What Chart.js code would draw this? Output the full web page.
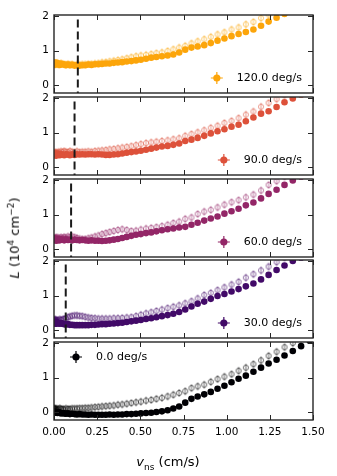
<!DOCTYPE html>
<html>
<head>
<meta charset="utf-8">
<script src="https://cdn.jsdelivr.net/npm/chart.js@4.4.1/dist/chart.umd.min.js"></script>
<style>
  body { margin: 0; background: #fff; }
  #wrap { position: relative; width: 337px; height: 476px; font-family: "DejaVu Sans", sans-serif; color: #000; }
  canvas { position: absolute; left: 0; }
  .lab { position: absolute; white-space: nowrap; font-size: 13px; }
  .lab sup, .lab sub { font-size: 9px; }
</style>
</head>
<body>
<div id="wrap">
  <canvas id="p0" width="337" height="110"></canvas>
  <canvas id="p1" width="337" height="110"></canvas>
  <canvas id="p2" width="337" height="110"></canvas>
  <canvas id="p3" width="337" height="110"></canvas>
  <canvas id="p4" width="337" height="118"></canvas>
  <div class="lab" style="left:14px;top:238px;transform:translate(-50%,-50%) rotate(-90deg);"><i>L</i> (10<sup>4</sup> cm<sup>&minus;2</sup>)</div>
  <div class="lab" style="left:168px;top:463px;transform:translate(-50%,-50%);"><i>v</i><sub>ns</sub> (cm/s)</div>
</div>
<script>
// shared x grid (cm/s)
var vns = [
  0, 0.002, 0.004, 0.007, 0.010, 0.015, 0.020, 0.026, 0.033, 0.041,
  0.050, 0.059, 0.069, 0.081, 0.092, 0.105, 0.119, 0.133, 0.148, 0.164,
  0.181, 0.199, 0.217, 0.237, 0.257, 0.278, 0.300, 0.322, 0.346, 0.370,
  0.395, 0.421, 0.448, 0.475, 0.503, 0.533, 0.563, 0.593, 0.625, 0.658,
  0.691, 0.725, 0.760, 0.796, 0.832, 0.870, 0.908, 0.947, 0.987, 1.028,
  1.069, 1.111, 1.155, 1.199, 1.243, 1.289, 1.335, 1.383, 1.431, 1.480
];

// 120 deg/s
var L120_filled = [
  0.64, 0.61, 0.66, 0.62, 0.60, 0.65, 0.62, 0.63, 0.59, 0.62,
  0.61, 0.60, 0.58, 0.60, 0.58, 0.59, 0.57, 0.58, 0.57, 0.58,
  0.58, 0.60, 0.59, 0.61, 0.61, 0.62, 0.63, 0.63, 0.65, 0.66,
  0.67, 0.69, 0.70, 0.72, 0.74, 0.77, 0.80, 0.82, 0.84, 0.86,
  0.89, 0.95, 1.03, 1.09, 1.12, 1.16, 1.22, 1.29, 1.35, 1.42,
  1.48, 1.54, 1.61, 1.72, 1.84, 1.95, 2.06, 2.18, 2.29, 2.40
];
var L120_open = [
  0.62, 0.65, 0.60, 0.64, 0.61, 0.63, 0.65, 0.60, 0.62, 0.64,
  0.62, 0.61, 0.60, 0.62, 0.60, 0.61, 0.59, 0.60, 0.60, 0.61,
  0.61, 0.62, 0.62, 0.63, 0.64, 0.66, 0.67, 0.69, 0.71, 0.73,
  0.75, 0.78, 0.81, 0.84, 0.86, 0.88, 0.90, 0.93, 0.95, 0.99,
  1.04, 1.09, 1.14, 1.21, 1.27, 1.33, 1.40, 1.47, 1.53, 1.61,
  1.67, 1.76, 1.83, 1.94, 2.04, 2.14, 2.24, 2.34, 2.44, 2.54
];
// 90 deg/s
var L90_filled = [
  0.37, 0.40, 0.35, 0.38, 0.36, 0.34, 0.39, 0.37, 0.35, 0.38,
  0.37, 0.35, 0.38, 0.37, 0.35, 0.38, 0.36, 0.38, 0.37, 0.38,
  0.37, 0.38, 0.38, 0.37, 0.38, 0.37, 0.36, 0.36, 0.37, 0.38,
  0.40, 0.42, 0.44, 0.46, 0.48, 0.51, 0.54, 0.57, 0.60, 0.62,
  0.65, 0.69, 0.76, 0.80, 0.85, 0.91, 0.98, 1.04, 1.10, 1.17,
  1.23, 1.33, 1.44, 1.55, 1.62, 1.74, 1.88, 1.99, 2.10, 2.20
];
var L90_open = [
  0.40, 0.43, 0.38, 0.41, 0.44, 0.40, 0.42, 0.45, 0.42, 0.46,
  0.44, 0.47, 0.45, 0.44, 0.47, 0.45, 0.44, 0.46, 0.44, 0.45,
  0.45, 0.46, 0.45, 0.47, 0.48, 0.49, 0.50, 0.52, 0.53, 0.55,
  0.57, 0.59, 0.61, 0.64, 0.67, 0.70, 0.72, 0.74, 0.76, 0.78,
  0.81, 0.84, 0.91, 0.96, 1.01, 1.07, 1.14, 1.20, 1.28, 1.34,
  1.42, 1.52, 1.61, 1.75, 1.86, 1.97, 2.08, 2.20, 2.30, 2.40
];
// 60 deg/s
var L60_filled = [
  0.28, 0.31, 0.26, 0.29, 0.28, 0.25, 0.30, 0.28, 0.26, 0.29,
  0.28, 0.26, 0.29, 0.27, 0.28, 0.26, 0.28, 0.27, 0.26, 0.27,
  0.26, 0.25, 0.26, 0.25, 0.25, 0.24, 0.25, 0.26, 0.28, 0.30,
  0.33, 0.36, 0.39, 0.42, 0.44, 0.47, 0.49, 0.52, 0.55, 0.58,
  0.60, 0.63, 0.65, 0.71, 0.77, 0.83, 0.89, 0.95, 1.03, 1.10,
  1.17, 1.27, 1.35, 1.47, 1.60, 1.72, 1.86, 1.99, 2.10, 2.20
];
var L60_open = [
  0.32, 0.29, 0.34, 0.31, 0.33, 0.35, 0.31, 0.34, 0.32, 0.35,
  0.33, 0.36, 0.34, 0.37, 0.35, 0.37, 0.35, 0.33, 0.31, 0.30,
  0.30, 0.32, 0.34, 0.37, 0.40, 0.44, 0.47, 0.50, 0.53, 0.56,
  0.58, 0.56, 0.53, 0.54, 0.57, 0.60, 0.62, 0.64, 0.67, 0.71,
  0.76, 0.80, 0.88, 0.92, 1.02, 1.09, 1.14, 1.21, 1.29, 1.36,
  1.42, 1.50, 1.58, 1.70, 1.86, 1.97, 2.10, 2.20, 2.30, 2.40
];
// 30 deg/s
var L30_filled = [
  0.22, 0.25, 0.20, 0.23, 0.22, 0.19, 0.23, 0.21, 0.19, 0.21,
  0.19, 0.18, 0.17, 0.18, 0.16, 0.16, 0.15, 0.15, 0.15, 0.15,
  0.15, 0.15, 0.16, 0.16, 0.17, 0.18, 0.18, 0.19, 0.20, 0.21,
  0.22, 0.24, 0.26, 0.28, 0.30, 0.33, 0.35, 0.38, 0.41, 0.44,
  0.48, 0.53, 0.60, 0.69, 0.77, 0.83, 0.91, 0.99, 1.05, 1.12,
  1.19, 1.27, 1.35, 1.47, 1.60, 1.74, 1.87, 2.00, 2.10, 2.20
];
var L30_open = [
  0.30, 0.27, 0.32, 0.29, 0.31, 0.28, 0.30, 0.29, 0.32, 0.30,
  0.32, 0.33, 0.35, 0.38, 0.40, 0.42, 0.43, 0.43, 0.42, 0.41,
  0.39, 0.37, 0.36, 0.35, 0.34, 0.34, 0.34, 0.34, 0.35, 0.35,
  0.36, 0.37, 0.38, 0.41, 0.45, 0.49, 0.52, 0.56, 0.60, 0.64,
  0.68, 0.72, 0.78, 0.84, 0.92, 1.02, 1.08, 1.16, 1.24, 1.32,
  1.40, 1.52, 1.62, 1.73, 1.84, 1.97, 2.10, 2.20, 2.30, 2.40
];
// 0 deg/s
var L0_filled = [
  0.03, 0.00, 0.02, -0.01, 0.01, 0.00, -0.02, 0.01, -0.01, -0.03,
  -0.02, -0.03, -0.04, -0.03, -0.05, -0.04, -0.05, -0.06, -0.05, -0.06,
  -0.06, -0.07, -0.06, -0.07, -0.07, -0.07, -0.07, -0.06, -0.07, -0.06,
  -0.06, -0.05, -0.05, -0.04, -0.03, -0.02, -0.01, 0.01, 0.03, 0.06,
  0.11, 0.17, 0.28, 0.39, 0.46, 0.52, 0.59, 0.68, 0.77, 0.87,
  0.97, 1.06, 1.17, 1.29, 1.41, 1.52, 1.64, 1.77, 1.91, 2.07
];
var L0_open = [
  0.10, 0.12, 0.08, 0.11, 0.09, 0.11, 0.08, 0.10, 0.12, 0.10,
  0.10, 0.09, 0.11, 0.10, 0.10, 0.11, 0.11, 0.11, 0.12, 0.12,
  0.13, 0.13, 0.14, 0.15, 0.16, 0.17, 0.18, 0.19, 0.20, 0.22,
  0.23, 0.25, 0.27, 0.29, 0.31, 0.34, 0.36, 0.39, 0.42, 0.46,
  0.51, 0.56, 0.61, 0.70, 0.75, 0.80, 0.88, 0.96, 1.03, 1.10,
  1.20, 1.29, 1.39, 1.50, 1.63, 1.75, 1.88, 2.00, 2.12, 2.25
];

var rateLabels = ['120.0 deg/s', '90.0 deg/s', '60.0 deg/s', '30.0 deg/s', '0.0 deg/s'];
var filledSets = [L120_filled, L90_filled, L60_filled, L30_filled, L0_filled];
var openSets = [L120_open, L90_open, L60_open, L30_open, L0_open];
var colors = ['#fca50a', '#dd513a', '#932667', '#420a68', '#000004'];
var vCrit = [0.138, 0.119, 0.099, 0.068, null];
var critTop = 1.9;
var xTicks = [0, 0.25, 0.5, 0.75, 1.0, 1.25, 1.5];
var yTicks = [0, 1, 2];
var yMin = -0.22, yMax = 2.03;

var panelTops = [15, 97, 179, 260, 342];
var PAD = 16;

function hexA(hex, a) {
  var r = parseInt(hex.substr(1, 2), 16), g = parseInt(hex.substr(3, 2), 16), b = parseInt(hex.substr(5, 2), 16);
  return 'rgba(' + r + ',' + g + ',' + b + ',' + a + ')';
}

// open marker with a small vertical error bar
function openMarker(color) {
  var c = document.createElement('canvas');
  c.width = 8; c.height = 10;
  var g = c.getContext('2d');
  g.strokeStyle = hexA(color, 0.55);
  g.lineWidth = 1;
  g.beginPath();
  g.arc(4, 5, 2.6, 0, Math.PI * 2);
  g.stroke();
  g.beginPath();
  g.moveTo(4, 1); g.lineTo(4, 9);
  g.stroke();
  return c;
}

var panelDeco = {
  id: 'panelDeco',
  afterDatasetsDraw: function (chart, args, opts) {
    var ctx = chart.ctx, a = chart.chartArea, sx = chart.scales.x, sy = chart.scales.y;
    ctx.save();
    ctx.strokeStyle = '#262626';
    ctx.lineWidth = 1;
    ctx.beginPath();
    xTicks.forEach(function (v) {
      var px = Math.round(sx.getPixelForValue(v)) + 0.5;
      ctx.moveTo(px, a.bottom); ctx.lineTo(px, a.bottom - 5);
      ctx.moveTo(px, a.top); ctx.lineTo(px, a.top + 5);
    });
    yTicks.forEach(function (v) {
      var py = Math.round(sy.getPixelForValue(v)) + 0.5;
      ctx.moveTo(a.left, py); ctx.lineTo(a.left + 5, py);
      ctx.moveTo(a.right, py); ctx.lineTo(a.right - 5, py);
    });
    ctx.stroke();
    ctx.lineWidth = 1.4;
    ctx.strokeRect(a.left, a.top, a.right - a.left, a.bottom - a.top);

    // legend
    ctx.font = '11px "DejaVu Sans"';
    ctx.textBaseline = 'middle';
    var w = ctx.measureText(opts.label).width;
    var tx, ty;
    if (opts.corner === 'tl') { tx = a.left + 42; ty = a.top + 15; }
    else { tx = a.right - 11 - w; ty = a.bottom - 15; }
    var mx = tx - 20;
    ctx.fillStyle = '#000';
    ctx.fillText(opts.label, tx, ty);
    ctx.strokeStyle = opts.color;
    ctx.lineWidth = 1.2;
    ctx.beginPath();
    ctx.moveTo(mx - 6, ty); ctx.lineTo(mx + 6, ty);
    ctx.moveTo(mx, ty - 6); ctx.lineTo(mx, ty + 6);
    ctx.stroke();
    ctx.fillStyle = opts.color;
    ctx.beginPath();
    ctx.arc(mx, ty, 3.6, 0, Math.PI * 2);
    ctx.fill();
    ctx.restore();
  }
};

function pts(arr) {
  return vns.map(function (x, i) { return { x: x, y: arr[i] }; });
}

for (let i = 0; i < 5; i++) {
  let last = (i === 4);
  let cv = document.getElementById('p' + i);
  cv.style.top = (panelTops[i] - PAD) + 'px';

  let datasets = [];
  if (vCrit[i] !== null) {
    datasets.push({
      type: 'line',
      data: [{ x: vCrit[i], y: critTop }, { x: vCrit[i], y: yMin }],
      borderColor: '#1a1a1a',
      borderWidth: 2,
      borderDash: [8, 4],
      pointRadius: 0,
      fill: false
    });
  }
  datasets.push({
    data: pts(filledSets[i]),
    backgroundColor: colors[i],
    borderWidth: 0,
    pointRadius: 3.3
  });
  datasets.push({
    data: pts(openSets[i]),
    pointStyle: openMarker(colors[i]),
    pointRadius: 3
  });

  new Chart(cv.getContext('2d'), {
    type: 'scatter',
    data: { datasets: datasets },
    options: {
      responsive: false,
      animation: false,
      devicePixelRatio: 1,
      layout: { padding: { top: PAD, bottom: last ? 4 : PAD, left: 0, right: 24 } },
      plugins: {
        legend: { display: false },
        tooltip: { enabled: false },
        panelDeco: { label: rateLabels[i], color: colors[i], corner: last ? 'tl' : 'br' }
      },
      scales: {
        x: {
          type: 'linear', min: 0, max: 1.5,
          grid: { display: false, drawTicks: false },
          border: { display: false },
          afterBuildTicks: function (s) { s.ticks = xTicks.map(function (v) { return { value: v }; }); },
          afterFit: function (s) { s.height = last ? 20 : 0; },
          ticks: {
            display: last, padding: 6, maxRotation: 0, autoSkip: false,
            color: '#000', font: { family: 'DejaVu Sans', size: 10.5 },
            callback: function (v) { return Number(v).toFixed(2); }
          }
        },
        y: {
          type: 'linear', min: yMin, max: yMax,
          grid: { display: false, drawTicks: false },
          border: { display: false },
          afterBuildTicks: function (s) { s.ticks = yTicks.map(function (v) { return { value: v }; }); },
          afterFit: function (s) { s.width = 54; },
          ticks: {
            padding: 5, color: '#000', font: { family: 'DejaVu Sans', size: 10.5 },
            callback: function (v) { return String(v); }
          }
        }
      }
    },
    plugins: [panelDeco]
  });
}
</script>
</body>
</html>
